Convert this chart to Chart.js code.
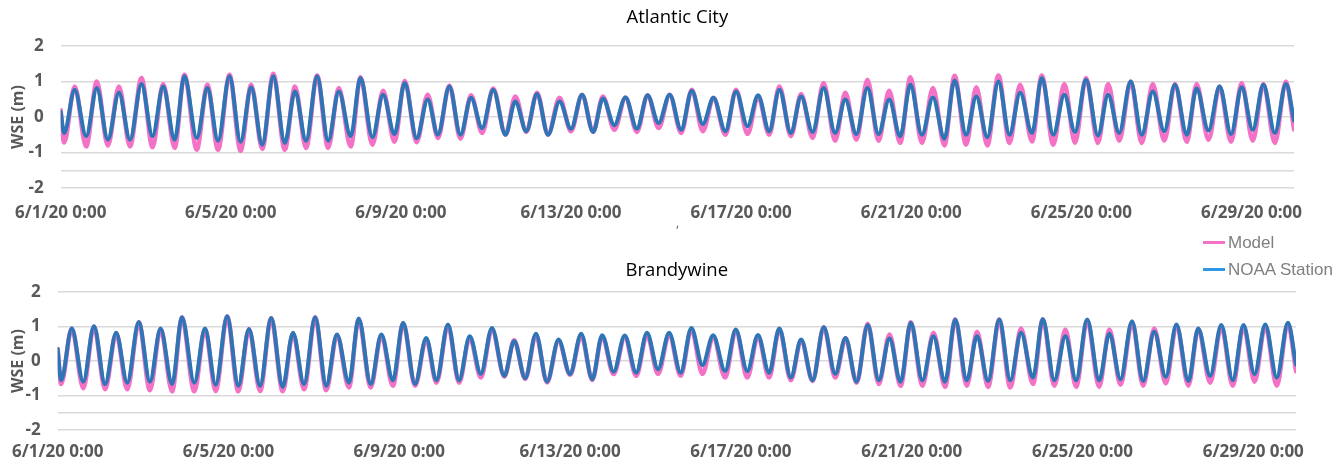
<!DOCTYPE html>
<html>
<head>
<meta charset="utf-8">
<script src="https://cdn.jsdelivr.net/npm/chart.js@4.4.1/dist/chart.umd.min.js"></script>
<style>
  body { margin: 0; width: 1340px; height: 465px; background: #fff; overflow: hidden; position: relative; }
  .panel { position: absolute; left: 0; }
  #legend { position: absolute; left: 1203px; top: 229px; font-family: "Liberation Sans", Arial, sans-serif; font-size: 17px; color: #7f7f7f; }
  #legend .item { display: flex; align-items: center; height: 27px; }
  #legend .swatch { width: 22px; height: 3px; margin-right: 3px; }
  #stray { position: absolute; left: 676px; top: 214px; font-family: "Open Sans", sans-serif; font-size: 12px; color: #595959; }
</style>
</head>
<body>
<div class="panel" style="top:0"><canvas id="chart-ac" width="1340" height="232"></canvas></div>
<div class="panel" style="top:250px"><canvas id="chart-bw" width="1340" height="215"></canvas></div>
<div id="legend"></div>
<div id="stray">,</div>
<script>
// time of each high / low water, in days after 6/1/20 0:00
const tideDays = [0,
  0.08, 0.33, 0.60, 0.85, 1.11, 1.37, 1.63, 1.90,
  2.16, 2.41, 2.68, 2.91, 3.20, 3.45, 3.70, 3.97,
  4.23, 4.48, 4.74, 5.00, 5.27, 5.51, 5.77, 6.03,
  6.29, 6.54, 6.82, 7.05, 7.33, 7.58, 7.85, 8.09,
  8.37, 8.63, 8.87, 9.14, 9.40, 9.65, 9.91, 10.17,
  10.46, 10.69, 10.95, 11.20, 11.46, 11.73, 12.00, 12.26,
  12.52, 12.75, 13.02, 13.28, 13.55, 13.80, 14.06, 14.32,
  14.59, 14.84, 15.10, 15.35, 15.63, 15.88, 16.15, 16.40,
  16.66, 16.90, 17.17, 17.41, 17.68, 17.94, 18.21, 18.45,
  18.71, 18.97, 19.23, 19.48, 19.74, 19.98, 20.25, 20.51,
  20.78, 21.02, 21.29, 21.53, 21.79, 22.05, 22.31, 22.56,
  22.84, 23.07, 23.34, 23.60, 23.85, 24.11, 24.39, 24.63,
  24.89, 25.16, 25.42, 25.68, 25.95, 26.20, 26.48, 26.71,
  26.99, 27.25, 27.52, 27.77, 28.03, 28.28, 28.55, 28.81,
  29.0];

// Atlantic City WSE (m)
const acNoaa = [0.15,
  -0.45, 0.77, -0.54, 0.82, -0.64, 0.68, -0.64, 0.93,
  -0.54, 0.86, -0.64, 1.15, -0.59, 0.82, -0.67, 1.15,
  -0.70, 0.84, -0.78, 1.15, -0.73, 0.72, -0.67, 1.15,
  -0.67, 0.72, -0.54, 1.10, -0.57, 0.63, -0.48, 0.96,
  -0.60, 0.49, -0.50, 0.86, -0.50, 0.54, -0.31, 0.77,
  -0.50, 0.44, -0.40, 0.65, -0.50, 0.44, -0.33, 0.63,
  -0.42, 0.52, -0.23, 0.55, -0.33, 0.61, -0.17, 0.63,
  -0.36, 0.74, -0.20, 0.54, -0.40, 0.72, -0.26, 0.61,
  -0.40, 0.77, -0.45, 0.58, -0.42, 0.82, -0.45, 0.49,
  -0.48, 0.82, -0.48, 0.49, -0.54, 0.91, -0.50, 0.55,
  -0.61, 1.03, -0.50, 0.58, -0.57, 1.00, -0.50, 0.68,
  -0.45, 1.10, -0.50, 0.63, -0.42, 1.05, -0.52, 0.63,
  -0.45, 1.00, -0.50, 0.72, -0.40, 0.91, -0.50, 0.80,
  -0.38, 0.86, -0.48, 0.84, -0.36, 0.91, -0.45, 0.93,
  -0.10];
const acModel = [0.20,
  -0.72, 0.86, -0.83, 1.00, -0.81, 0.86, -0.83, 1.10,
  -0.85, 0.93, -0.87, 1.19, -0.92, 0.91, -0.92, 1.19,
  -0.95, 0.91, -0.90, 1.22, -0.92, 0.86, -0.87, 1.17,
  -0.87, 0.82, -0.83, 1.12, -0.78, 0.74, -0.70, 1.02,
  -0.71, 0.63, -0.59, 0.89, -0.61, 0.61, -0.45, 0.80,
  -0.50, 0.58, -0.42, 0.68, -0.50, 0.54, -0.40, 0.63,
  -0.42, 0.58, -0.36, 0.55, -0.42, 0.61, -0.31, 0.63,
  -0.45, 0.77, -0.40, 0.54, -0.50, 0.77, -0.48, 0.58,
  -0.50, 0.86, -0.54, 0.65, -0.59, 0.96, -0.67, 0.68,
  -0.64, 1.05, -0.67, 0.74, -0.73, 1.12, -0.73, 0.82,
  -0.80, 1.16, -0.78, 0.84, -0.80, 1.17, -0.73, 0.91,
  -0.69, 1.17, -0.78, 0.93, -0.73, 1.10, -0.73, 0.93,
  -0.67, 1.00, -0.73, 0.93, -0.67, 0.93, -0.70, 0.93,
  -0.64, 0.86, -0.70, 0.96, -0.67, 0.93, -0.73, 1.00,
  -0.35];

// Brandywine WSE (m)
const bwNoaa = [0.35,
  -0.56, 0.94, -0.60, 1.01, -0.67, 0.82, -0.63, 1.13,
  -0.60, 0.94, -0.67, 1.27, -0.63, 0.94, -0.69, 1.30,
  -0.72, 0.93, -0.72, 1.25, -0.75, 0.82, -0.67, 1.27,
  -0.72, 0.77, -0.63, 1.23, -0.67, 0.77, -0.56, 1.11,
  -0.67, 0.67, -0.56, 1.06, -0.56, 0.72, -0.37, 0.96,
  -0.43, 0.58, -0.50, 0.79, -0.60, 0.62, -0.38, 0.79,
  -0.53, 0.75, -0.31, 0.74, -0.34, 0.82, -0.24, 0.82,
  -0.34, 0.96, -0.12, 0.75, -0.29, 0.91, -0.29, 0.75,
  -0.34, 0.94, -0.48, 0.62, -0.56, 0.98, -0.37, 0.67,
  -0.60, 1.04, -0.56, 0.65, -0.60, 1.11, -0.56, 0.72,
  -0.60, 1.20, -0.56, 0.72, -0.58, 1.20, -0.56, 0.82,
  -0.48, 1.22, -0.56, 0.72, -0.56, 1.20, -0.56, 0.79,
  -0.53, 1.15, -0.58, 0.85, -0.46, 1.06, -0.58, 0.94,
  -0.43, 1.04, -0.56, 1.04, -0.38, 1.06, -0.48, 1.11,
  -0.10];
const bwModel = [0.35,
  -0.67, 0.94, -0.79, 1.00, -0.82, 0.80, -0.82, 1.12,
  -0.85, 0.93, -0.88, 1.26, -0.88, 0.93, -0.87, 1.29,
  -0.88, 0.92, -0.87, 1.24, -0.88, 0.80, -0.82, 1.26,
  -0.85, 0.75, -0.77, 1.21, -0.77, 0.75, -0.72, 1.09,
  -0.72, 0.63, -0.63, 1.03, -0.63, 0.68, -0.48, 0.92,
  -0.45, 0.60, -0.52, 0.75, -0.62, 0.58, -0.40, 0.74,
  -0.55, 0.70, -0.38, 0.68, -0.43, 0.76, -0.38, 0.76,
  -0.43, 0.92, -0.38, 0.70, -0.48, 0.88, -0.48, 0.72,
  -0.48, 0.92, -0.56, 0.60, -0.58, 0.98, -0.48, 0.66,
  -0.63, 1.08, -0.67, 0.77, -0.72, 1.12, -0.72, 0.82,
  -0.75, 1.20, -0.72, 0.85, -0.75, 1.20, -0.77, 0.94,
  -0.67, 1.20, -0.72, 0.91, -0.75, 1.18, -0.75, 0.91,
  -0.69, 1.12, -0.72, 0.94, -0.65, 1.02, -0.72, 0.92,
  -0.63, 1.00, -0.72, 1.00, -0.60, 1.02, -0.72, 1.08,
  -0.30];

const xTickDays = [0, 4, 8, 12, 16, 20, 24, 28];
const xTickLabels = ['6/1/20 0:00', '6/5/20 0:00', '6/9/20 0:00', '6/13/20 0:00',
  '6/17/20 0:00', '6/21/20 0:00', '6/25/20 0:00', '6/29/20 0:00'];
const yTickValues = [-2, -1.5, -1, 0, 1, 2];
const seriesNames = ['Model', 'NOAA Station'];

const PINK = '#f472c6';
const BLUE = '#2e75b6';
const GREY = '#595959';
const tickFont = { family: 'Open Sans', size: 17, weight: 'bold' };

function points(values) {
  return tideDays.map((d, i) => ({ x: d, y: values[i] }));
}

function makeChart(id, title, model, noaa, g) {
  const ctx = document.getElementById(id).getContext('2d');
  return new Chart(ctx, {
    type: 'line',
    data: {
      datasets: [
        { label: seriesNames[0], data: points(model), borderColor: PINK, borderWidth: 4.5, order: 1 },
        { label: seriesNames[1], data: points(noaa), borderColor: BLUE, borderWidth: 4, order: 0 }
      ]
    },
    options: {
      responsive: false,
      animation: false,
      events: [],
      parsing: false,
      cubicInterpolationMode: 'monotone',
      elements: { point: { radius: 0 }, line: { borderJoinStyle: 'round', borderCapStyle: 'round' } },
      layout: { padding: { left: 0, right: g.right, top: 0, bottom: 0 } },
      plugins: {
        legend: { display: false },
        tooltip: { enabled: false },
        title: {
          display: true,
          text: title,
          fullSize: false,
          color: '#000',
          font: { family: 'Open Sans', size: 18.5, weight: 'normal' },
          padding: { top: g.titleTop, bottom: g.titleBottom }
        }
      },
      scales: {
        x: {
          type: 'linear',
          min: 0,
          max: 29,
          afterBuildTicks: axis => { axis.ticks = xTickDays.map(v => ({ value: v })); },
          ticks: {
            callback: v => xTickLabels[xTickDays.indexOf(v)],
            color: GREY, font: tickFont, padding: g.xPad, maxRotation: 0, autoSkip: false
          },
          grid: { display: false, drawTicks: false },
          border: { display: false },
          afterFit: s => { s.height = g.xHeight; }
        },
        y: {
          min: -2,
          max: 2,
          afterBuildTicks: axis => { axis.ticks = yTickValues.map(v => ({ value: v })); },
          ticks: {
            callback: v => Number.isInteger(v) ? String(v) : '',
            color: GREY, font: tickFont, padding: 17
          },
          grid: { color: '#d9d9d9', lineWidth: 1.5, drawTicks: false },
          border: { display: false },
          title: {
            display: true, text: 'WSE (m)', color: GREY,
            font: { family: 'Open Sans', size: 16, weight: 'bold' },
            padding: { top: 8, bottom: 0 }
          },
          afterFit: s => { s.width = g.left; }
        }
      }
    }
  });
}

makeChart('chart-ac', 'Atlantic City', acModel, acNoaa,
  { left: 60, right: 46, titleTop: 7, titleBottom: 16.8, xPad: 15, xHeight: 44 });
makeChart('chart-bw', 'Brandywine', bwModel, bwNoaa,
  { left: 57, right: 44, titleTop: 10, titleBottom: 9.8, xPad: 12, xHeight: 35 });

// legend shared by both panels
const legendColors = ['#f472c6', '#2f97e6'];
const legend = document.getElementById('legend');
seriesNames.forEach((name, i) => {
  const item = document.createElement('div');
  item.className = 'item';
  const sw = document.createElement('span');
  sw.className = 'swatch';
  sw.style.background = legendColors[i];
  const txt = document.createElement('span');
  txt.textContent = name;
  item.appendChild(sw);
  item.appendChild(txt);
  legend.appendChild(item);
});
</script>
</body>
</html>
